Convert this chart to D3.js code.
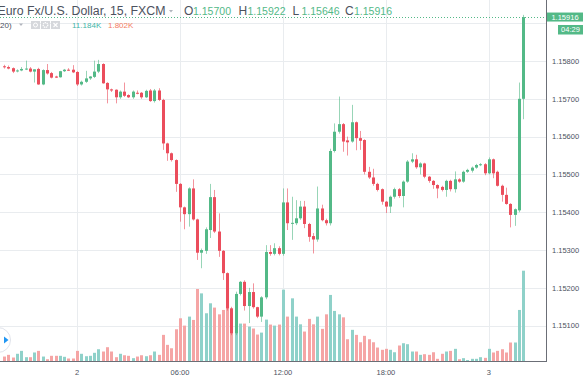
<!DOCTYPE html>
<html>
<head>
<meta charset="utf-8">
<script src="https://cdn.jsdelivr.net/npm/d3@7"></script>
<style>
  html, body { margin: 0; padding: 0; background: #fff; }
  svg { display: block; font-family: "Liberation Sans", Arial, sans-serif; }
</style>
</head>
<body>
<svg id="chart" width="583" height="381"></svg>
<script>
// 15 minute candles, EUR/USD (FXCM)
const opens = [
  1.15786,1.15784,1.15781,1.15773,1.15775,1.15778,1.15780,1.15772,1.15779,1.15738,
  1.15776,1.15768,1.15759,1.15757,1.15773,1.15777,1.15777,1.15771,1.15738,1.15745,
  1.15754,1.15758,1.15772,1.15792,1.15742,1.15725,1.15724,1.15704,1.15719,1.15710,
  1.15704,1.15716,1.15716,1.15704,1.15722,1.15694,1.15722,1.15697,1.15582,1.15556,
  1.15538,1.15475,1.15413,1.15395,1.15463,1.15381,1.15293,1.15298,1.15353,1.15440,
  1.15349,1.15298,1.15239,1.15146,1.15080,1.15184,1.15216,1.15152,1.15189,1.15149,
  1.15124,1.15175,1.15295,1.15290,1.15305,1.15290,1.15426,1.15371,1.15371,1.15384,
  1.15415,1.15369,1.15337,1.15328,1.15410,1.15379,1.15371,1.15562,1.15613,1.15633,
  1.15590,1.15587,1.15638,1.15596,1.15591,1.15507,1.15492,1.15475,1.15461,1.15428,
  1.15415,1.15441,1.15461,1.15443,1.15481,1.15534,1.15540,1.15519,1.15529,1.15494,
  1.15483,1.15472,1.15467,1.15459,1.15483,1.15461,1.15487,1.15481,1.15507,1.15510,
  1.15518,1.15525,1.15527,1.15503,1.15540,1.15507,1.15470,1.15446,1.15422,1.15393,
  1.15405,1.15700
];
const highs = [
  1.15790,1.15788,1.15783,1.15778,1.15784,1.15801,1.15784,1.15778,1.15782,1.15778,
  1.15792,1.15771,1.15761,1.15774,1.15779,1.15781,1.15789,1.15773,1.15748,1.15774,
  1.15760,1.15801,1.15803,1.15794,1.15744,1.15727,1.15725,1.15722,1.15743,1.15712,
  1.15722,1.15722,1.15718,1.15724,1.15726,1.15726,1.15728,1.15700,1.15584,1.15558,
  1.15540,1.15477,1.15415,1.15466,1.15487,1.15383,1.15304,1.15360,1.15475,1.15459,
  1.15397,1.15300,1.15241,1.15150,1.15190,1.15218,1.15220,1.15200,1.15212,1.15150,
  1.15178,1.15313,1.15313,1.15318,1.15310,1.15463,1.15463,1.15441,1.15432,1.15430,
  1.15430,1.15372,1.15345,1.15468,1.15420,1.15383,1.15568,1.15635,1.15706,1.15636,
  1.15600,1.15684,1.15640,1.15615,1.15593,1.15520,1.15515,1.15478,1.15463,1.15430,
  1.15444,1.15465,1.15464,1.15484,1.15538,1.15556,1.15552,1.15532,1.15531,1.15496,
  1.15485,1.15474,1.15470,1.15486,1.15486,1.15508,1.15490,1.15510,1.15515,1.15521,
  1.15528,1.15530,1.15530,1.15545,1.15542,1.15510,1.15473,1.15465,1.15424,1.15410,
  1.15743,1.15922
];
const lows = [
  1.15780,1.15778,1.15768,1.15770,1.15773,1.15776,1.15770,1.15743,1.15737,1.15736,
  1.15764,1.15754,1.15755,1.15756,1.15771,1.15774,1.15768,1.15734,1.15735,1.15742,
  1.15750,1.15755,1.15768,1.15740,1.15688,1.15718,1.15688,1.15700,1.15705,1.15702,
  1.15700,1.15712,1.15700,1.15702,1.15692,1.15690,1.15694,1.15565,1.15536,1.15534,
  1.15454,1.15375,1.15355,1.15362,1.15378,1.15274,1.15252,1.15290,1.15332,1.15345,
  1.15282,1.15221,1.15140,1.15075,1.15075,1.15180,1.15140,1.15107,1.15145,1.15120,
  1.15110,1.15170,1.15285,1.15286,1.15286,1.15285,1.15353,1.15327,1.15366,1.15380,
  1.15358,1.15322,1.15291,1.15322,1.15376,1.15365,1.15365,1.15558,1.15608,1.15560,
  1.15550,1.15584,1.15564,1.15565,1.15500,1.15488,1.15470,1.15455,1.15420,1.15398,
  1.15398,1.15436,1.15438,1.15413,1.15478,1.15530,1.15515,1.15500,1.15490,1.15478,
  1.15462,1.15437,1.15455,1.15441,1.15455,1.15452,1.15478,1.15478,1.15504,1.15505,
  1.15515,1.15522,1.15498,1.15500,1.15490,1.15468,1.15428,1.15420,1.15360,1.15364,
  1.15400,1.15646
];
const closes = [
  1.15784,1.15780,1.15772,1.15775,1.15779,1.15780,1.15772,1.15778,1.15738,1.15776,
  1.15767,1.15756,1.15756,1.15773,1.15777,1.15776,1.15770,1.15738,1.15745,1.15754,
  1.15759,1.15772,1.15792,1.15741,1.15725,1.15722,1.15704,1.15719,1.15708,1.15704,
  1.15719,1.15715,1.15704,1.15721,1.15694,1.15722,1.15697,1.15582,1.15556,1.15538,
  1.15475,1.15413,1.15395,1.15463,1.15381,1.15293,1.15300,1.15355,1.15440,1.15349,
  1.15298,1.15239,1.15146,1.15080,1.15184,1.15216,1.15152,1.15189,1.15149,1.15124,
  1.15175,1.15295,1.15290,1.15305,1.15290,1.15426,1.15371,1.15372,1.15384,1.15415,
  1.15369,1.15335,1.15328,1.15410,1.15379,1.15371,1.15562,1.15613,1.15633,1.15587,
  1.15585,1.15638,1.15596,1.15589,1.15507,1.15492,1.15475,1.15459,1.15428,1.15415,
  1.15441,1.15461,1.15443,1.15481,1.15534,1.15540,1.15519,1.15529,1.15494,1.15483,
  1.15472,1.15463,1.15459,1.15483,1.15461,1.15487,1.15481,1.15507,1.15512,1.15518,
  1.15525,1.15527,1.15503,1.15540,1.15503,1.15470,1.15446,1.15422,1.15393,1.15408,
  1.15700,1.15916
];
// volume in thousands
const volumes = [
  0.61,0.82,0.49,0.95,1.31,0.53,0.53,1.11,1.31,0.61,
  0.28,0.70,0.70,0.70,0.58,0.37,0.37,1.31,0.95,0.65,
  0.70,1.07,1.51,1.23,1.76,1.23,0.53,0.95,0.77,0.70,
  0.41,0.61,0.77,0.65,0.77,1.23,0.82,3.28,2.05,1.63,
  3.97,5.32,4.42,5.53,5.12,8.93,8.39,5.94,7.17,6.64,
  5.81,6.35,6.64,5.28,4.71,4.67,4.67,4.30,4.06,3.32,
  3.56,5.16,4.55,4.42,4.55,8.85,5.53,7.78,5.53,4.58,
  3.69,5.25,4.58,5.53,4.02,5.81,8.20,6.23,5.81,5.44,
  2.74,3.90,3.28,2.37,3.16,2.74,2.37,1.72,1.44,1.56,
  1.44,1.14,1.97,2.25,2.13,1.23,1.23,0.82,0.90,0.82,
  1.14,0.33,0.95,1.23,1.31,1.56,0.28,0.41,0.18,0.33,
  0.33,0.53,0.45,1.56,1.11,1.31,1.51,1.11,2.34,2.34,
  6.35,11.184
];
const startTime = new Date(2018, 6, 1, 19, 45);
const tickTimes = [
  new Date(2018, 6, 2, 0, 0),
  new Date(2018, 6, 2, 6, 0),
  new Date(2018, 6, 2, 12, 0),
  new Date(2018, 6, 2, 18, 0),
  new Date(2018, 6, 3, 0, 0)
];
const priceTicks = [1.151, 1.152, 1.153, 1.154, 1.155, 1.156, 1.157, 1.158];
const priceGrid = [1.151, 1.152, 1.153, 1.154, 1.155, 1.156, 1.157, 1.158, 1.159];
const ohlcLabels = ["O", "H", "L", "C"];
const volumeLegend = ["11.184K", "1.802K"];

const theme = {
  up: "#53b987",
  down: "#eb4d5c",
  volUp: "#8fd1c9",
  volDown: "#f5a5a5",
  grid: "#e9ecef",
  axis: "#6b6e76",
  text: "#4c525e"
};

const W = 583, H = 381;
const plotRight = 546.5, plotBottom = 361.5;

const svg = d3.select("#chart");
const n = closes.length;
const idx = d3.range(n);
const times = idx.map((i) => d3.timeMinute.offset(startTime, 15 * i));

const x = d3.scaleTime()
  .domain([times[0], times[n - 1]])
  .range([4.07, 4.07 + 4.29 * (n - 1)]);
const y = d3.scaleLinear().domain([1.151, 1.158]).range([325.7, 61]);
const yVol = d3.scaleLinear().domain([0, d3.max(volumes)]).range([plotBottom, 270.7]);

const isUp = (i) => closes[i] >= opens[i];
const cx = (i) => Math.round(x(times[i]));
const crisp = (v) => Math.round(v) + 0.5;

// grid
const grid = svg.append("g").attr("stroke", theme.grid).attr("stroke-width", 1);
grid.selectAll("line.v")
  .data(tickTimes)
  .join("line")
  .attr("x1", (d) => crisp(x(d))).attr("x2", (d) => crisp(x(d)))
  .attr("y1", 0).attr("y2", plotBottom);
grid.selectAll("line.h")
  .data(priceGrid)
  .join("line")
  .attr("x1", 0).attr("x2", plotRight)
  .attr("y1", (d) => crisp(y(d))).attr("y2", (d) => crisp(y(d)));

const plot = svg.append("g");
svg.append("clipPath").attr("id", "plot-clip")
  .append("rect").attr("x", 0).attr("y", 0).attr("width", plotRight).attr("height", plotBottom);
plot.attr("clip-path", "url(#plot-clip)");

// volume
plot.append("g")
  .selectAll("rect")
  .data(idx)
  .join("rect")
  .attr("x", (i) => cx(i) - 1)
  .attr("width", 3)
  .attr("y", (i) => yVol(volumes[i]))
  .attr("height", (i) => plotBottom - yVol(volumes[i]))
  .attr("fill", (i) => (isUp(i) ? theme.volUp : theme.volDown));

// candles
const candles = plot.append("g");
candles.selectAll("line")
  .data(idx)
  .join("line")
  .attr("x1", (i) => cx(i) + 0.5).attr("x2", (i) => cx(i) + 0.5)
  .attr("y1", (i) => y(highs[i])).attr("y2", (i) => y(lows[i]))
  .attr("stroke", (i) => (isUp(i) ? theme.up : theme.down))
  .attr("stroke-width", 1)
  .attr("stroke-opacity", 0.6);
candles.selectAll("rect")
  .data(idx)
  .join("rect")
  .attr("x", (i) => cx(i) - 1)
  .attr("width", 3)
  .attr("y", (i) => y(Math.max(opens[i], closes[i])))
  .attr("height", (i) => Math.max(1, Math.abs(y(opens[i]) - y(closes[i]))))
  .attr("fill", (i) => (isUp(i) ? theme.up : theme.down));

// last price line
const lastY = y(closes[n - 1]);
svg.append("line")
  .attr("x1", 0).attr("x2", plotRight)
  .attr("y1", Math.round(lastY) + 0.5).attr("y2", Math.round(lastY) + 0.5)
  .attr("stroke", theme.up)
  .attr("stroke-dasharray", "1,2");

// axes lines
svg.append("line")
  .attr("x1", plotRight).attr("x2", plotRight).attr("y1", 0).attr("y2", plotBottom + 0.5)
  .attr("stroke", theme.axis);
svg.append("line")
  .attr("x1", 0).attr("x2", plotRight).attr("y1", plotBottom).attr("y2", plotBottom)
  .attr("stroke", theme.axis);

// price axis labels
svg.append("g")
  .attr("font-size", "7.5px")
  .attr("fill", theme.text)
  .selectAll("text")
  .data(priceTicks)
  .join("text")
  .attr("x", 552)
  .attr("y", (d) => y(d) + 2.7)
  .text((d) => d3.format(".5f")(d));

// time axis labels
const timeFormat = (d) => (d.getHours() === 0 ? d3.timeFormat("%-d")(d) : d3.timeFormat("%H:%M")(d));
svg.append("g")
  .attr("font-size", "7.5px")
  .attr("fill", theme.text)
  .attr("text-anchor", "middle")
  .selectAll("text")
  .data(tickTimes)
  .join("text")
  .attr("x", (d) => x(d))
  .attr("y", 374.5)
  .text(timeFormat);

// last price tag + countdown
const fmt5 = d3.format(".5f");
svg.append("rect")
  .attr("x", plotRight + 0.5).attr("y", lastY - 4.6)
  .attr("width", W - plotRight).attr("height", 9)
  .attr("fill", theme.up);
svg.append("text")
  .attr("x", 565).attr("y", lastY + 2.6)
  .attr("text-anchor", "middle")
  .attr("font-size", "7.5px").attr("fill", "#fff")
  .text(fmt5(closes[n - 1]));
svg.append("rect")
  .attr("x", 558).attr("y", 25).attr("width", 25).attr("height", 9.5)
  .attr("fill", theme.up);
svg.append("text")
  .attr("x", 570.5).attr("y", 32.3)
  .attr("text-anchor", "middle")
  .attr("font-size", "7.5px").attr("fill", "#fff")
  .text("04:29");

// header
const header = svg.append("g");
header.append("text")
  .attr("x", -2.5).attr("y", 15)
  .attr("font-size", "12.5px")
  .attr("fill", theme.text)
  .attr("textLength", 168).attr("lengthAdjust", "spacingAndGlyphs")
  .text("Euro Fx/U.S. Dollar, 15, FXCM");
header.append("path")
  .attr("d", "M169,10 L173,10 L171,12.5 Z")
  .attr("fill", "#b2b5be");

const ohlcValues = [opens[n - 1], highs[n - 1], lows[n - 1], closes[n - 1]];
const ohlcX = [184, 238.5, 292.5, 345];
ohlcLabels.forEach((label, k) => {
  header.append("text")
    .attr("x", ohlcX[k]).attr("y", 15)
    .attr("font-size", "12px")
    .attr("fill", theme.text)
    .text(label);
  header.append("text")
    .attr("x", ohlcX[k] + 9).attr("y", 15)
    .attr("font-size", "11px")
    .attr("fill", theme.up)
    .attr("textLength", 38).attr("lengthAdjust", "spacingAndGlyphs")
    .text(fmt5(ohlcValues[k]));
});

// volume study legend
const legend = svg.append("g").attr("font-size", "8px");
legend.append("text").attr("x", 0).attr("y", 28).attr("fill", theme.text).text("20)");
legend.append("path").attr("d", "M19,23.5 L23,23.5 L21,26 Z").attr("fill", "#b2b5be");
[31, 41, 51].forEach((bx, k) => {
  legend.append("rect")
    .attr("x", bx).attr("y", 21).attr("width", 9).attr("height", 8)
    .attr("fill", "#d6d8dc");
  if (k === 0) {
    legend.append("circle").attr("cx", bx + 4.5).attr("cy", 25).attr("r", 2)
      .attr("fill", "none").attr("stroke", "#fff").attr("stroke-width", 1);
  } else if (k === 1) {
    legend.append("circle").attr("cx", bx + 4.5).attr("cy", 25).attr("r", 2.3)
      .attr("fill", "none").attr("stroke", "#fff").attr("stroke-width", 1.3)
      .attr("stroke-dasharray", "1.2,0.6");
  } else {
    legend.append("path")
      .attr("d", `M${bx + 2.5},23 L${bx + 6.5},27 M${bx + 6.5},23 L${bx + 2.5},27`)
      .attr("stroke", "#fff").attr("stroke-width", 1.1);
  }
});
legend.append("text").attr("x", 72).attr("y", 28).attr("fill", "#3fb5a8").text(volumeLegend[0]);
legend.append("text").attr("x", 108).attr("y", 28).attr("fill", "#f47c62").text(volumeLegend[1]);

// scroll button at left edge
svg.append("circle")
  .attr("cx", -2).attr("cy", 340).attr("r", 12.5)
  .attr("fill", "#fff").attr("stroke", "#e0e3eb");
svg.append("path")
  .attr("d", "M4,336.5 L8.5,340 L4,343.5 Z")
  .attr("fill", "#2196f3");
</script>
</body>
</html>
